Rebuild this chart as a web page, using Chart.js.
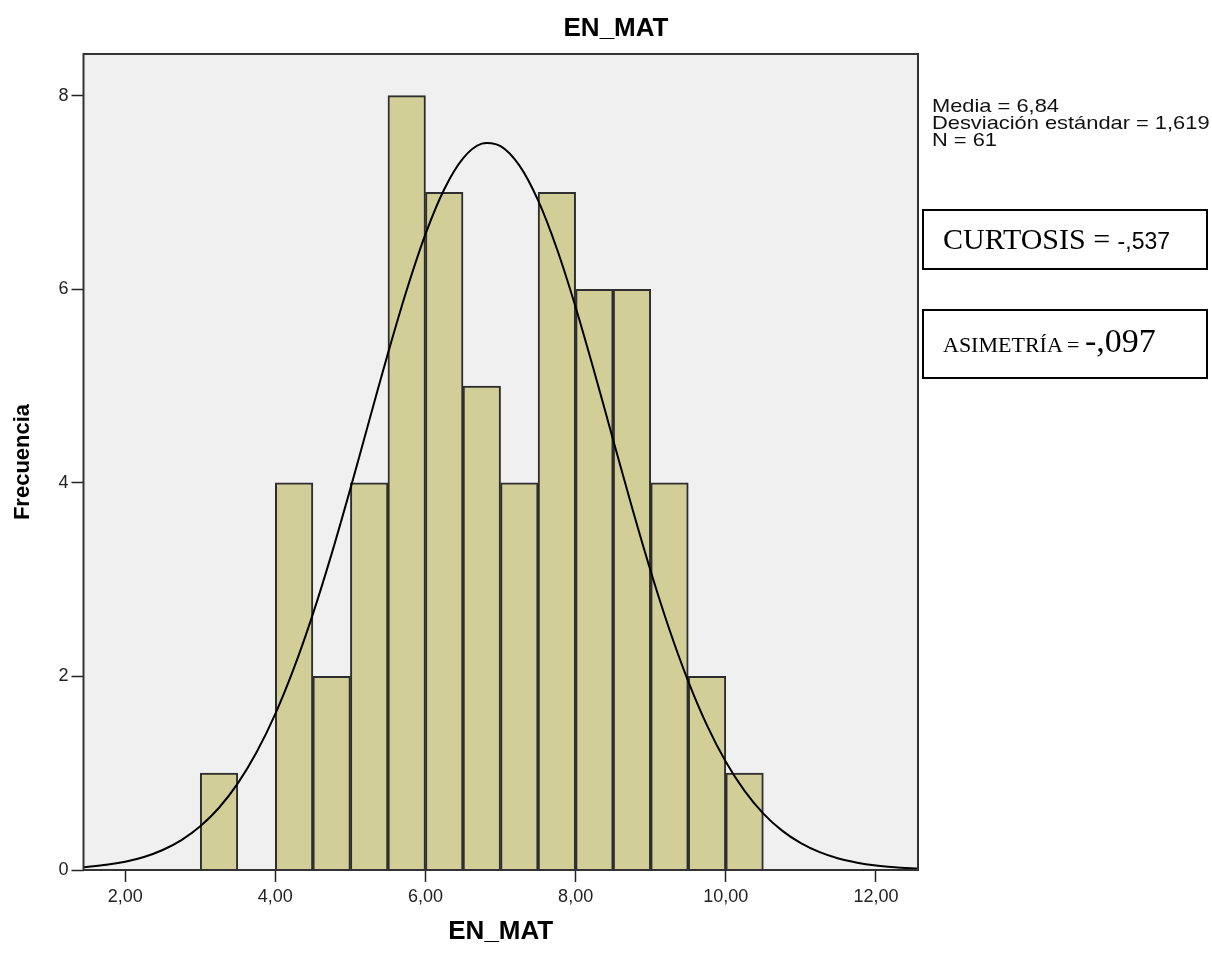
<!DOCTYPE html>
<html>
<head>
<meta charset="utf-8">
<script src="https://cdn.jsdelivr.net/npm/chart.js@4.4.0/dist/chart.umd.min.js"></script>
<style>
  body { margin: 0; background: #fff; }
  #wrap { position: relative; width: 1212px; height: 962px; }
  .stats { position: absolute; left: 932px; top: 97px; font: 19px/17px "Liberation Sans", Arial, sans-serif; color: #111; white-space: nowrap; transform: scaleX(1.15); transform-origin: left top; }
  .box { position: absolute; left: 922px; width: 286px; border: 2px solid #000; box-sizing: border-box; }
  .box div { position: absolute; left: 19px; white-space: nowrap; line-height: 1; color: #000; }
  .serif { font-family: "Liberation Serif", "Times New Roman", serif; }
  .sans { font-family: "Liberation Sans", Arial, sans-serif; }
</style>
</head>
<body>
<div id="wrap">
  <canvas id="hist-chart" width="1212" height="962"></canvas>
  <div class="stats">Media = 6,84<br>Desviación estándar = 1,619<br>N = 61</div>
  <div class="box" style="top:209px;height:61px;">
    <div style="top:13px;"><span class="serif" style="font-size:30px;">CURTOSIS = </span><span class="sans" style="font-size:23px;">-,537</span></div>
  </div>
  <div class="box" style="top:309px;height:70px;">
    <div style="top:13px;"><span class="serif" style="font-size:22px;">ASIMETRÍA = </span><span class="serif" style="font-size:34px;">-,097</span></div>
  </div>
</div>
<script>
  // histogram bins (centre of each 0,5 wide bin) and counts
  const binCenters = [3.25, 3.75, 4.25, 4.75, 5.25, 5.75, 6.25, 6.75, 7.25, 7.75, 8.25, 8.75, 9.25, 9.75, 10.25];
  const counts = [1, 0, 4, 2, 4, 8, 7, 5, 4, 7, 6, 6, 4, 2, 1];

  // normal curve
  const curveX = [1.445, 1.75, 2, 2.25, 2.5, 2.75, 3, 3.25, 3.5, 3.75, 4, 4.25, 4.5, 4.75, 5, 5.25, 5.5, 5.75, 6, 6.25, 6.5, 6.75,
                  7, 7.25, 7.5, 7.75, 8, 8.25, 8.5, 8.75, 9, 9.25, 9.5, 9.75, 10, 10.25, 10.5, 10.75, 11, 11.25, 11.5, 11.75, 12, 12.25, 12.56];
  const curveY = [0.029, 0.054, 0.086, 0.135, 0.207, 0.309, 0.451, 0.643, 0.895, 1.216, 1.613, 2.09, 2.644, 3.266, 3.94, 4.641, 5.337, 5.992, 6.57, 7.033, 7.352, 7.504,
                  7.479, 7.279, 6.917, 6.418, 5.814, 5.143, 4.443, 3.748, 3.087, 2.482, 1.949, 1.494, 1.118, 0.818, 0.583, 0.407, 0.277, 0.184, 0.119, 0.076, 0.047, 0.028, 0.015];

  // axis ticks
  const xTicks = [2, 4, 6, 8, 10, 12];
  const yTicks = [0, 2, 4, 6, 8];

  const fontName = '"Liberation Sans", Arial, sans-serif';

  // plot background, frame and centred title
  const framePlugin = {
    id: 'frame',
    beforeDraw(chart) {
      const a = chart.chartArea, ctx = chart.ctx;
      ctx.save();
      ctx.fillStyle = '#f0f0f0';
      ctx.fillRect(a.left, a.top, a.right - a.left, a.bottom - a.top);
      ctx.restore();
    },
    afterDraw(chart) {
      const a = chart.chartArea, ctx = chart.ctx;
      ctx.save();
      ctx.strokeStyle = '#333';
      ctx.lineWidth = 2;
      ctx.strokeRect(a.left, a.top, a.right - a.left, a.bottom - a.top);
      ctx.fillStyle = '#000';
      ctx.font = 'bold 26px ' + fontName;
      ctx.textAlign = 'center';
      ctx.textBaseline = 'middle';
      ctx.fillText('EN_MAT', 616, 29);
      ctx.restore();
    }
  };

  const ctxH = document.getElementById('hist-chart');
  const histChart = new Chart(ctxH, {
    type: 'bar',
    data: {
      datasets: [{
        type: 'line',
        data: curveX.map((x, i) => ({ x: x, y: curveY[i] })),
        borderColor: '#000',
        borderWidth: 2,
        pointRadius: 0,
        tension: 0.3,
        fill: false,
        order: 1
      }, {
        type: 'bar',
        data: binCenters.map((x, i) => ({ x: x, y: counts[i] })),
        backgroundColor: '#d2ce98',
        borderColor: '#2e2e2e',
        borderWidth: 2,
        barPercentage: 1,
        categoryPercentage: 1,
        order: 2
      }]
    },
    options: {
      responsive: false,
      animation: false,
      devicePixelRatio: 1,
      layout: { padding: { top: 54, right: 294, left: 0, bottom: 0 } },
      plugins: {
        legend: { display: false },
        tooltip: { enabled: false },
        title: { display: false }
      },
      scales: {
        x: {
          type: 'linear',
          min: 1.445,
          max: 12.56,
          offset: false,
          afterFit: (s) => { s.height = 92; },
          afterBuildTicks: (s) => { s.ticks = xTicks.map(v => ({ value: v })); },
          ticks: {
            color: '#222',
            font: { family: fontName, size: 18 },
            padding: 4,
            maxRotation: 0,
            callback: (v) => v.toFixed(2).replace('.', ',')
          },
          grid: { offset: false, drawOnChartArea: false, tickLength: 12, tickColor: '#222', tickWidth: 1.5 },
          border: { display: false },
          title: {
            display: true,
            text: 'EN_MAT',
            color: '#000',
            font: { family: fontName, size: 26, weight: 'bold' },
            padding: { top: 0, bottom: 15 }
          }
        },
        y: {
          type: 'linear',
          min: 0,
          max: 8.43,
          afterFit: (s) => { s.width = 83.5; },
          afterBuildTicks: (s) => { s.ticks = yTicks.map(v => ({ value: v })); },
          ticks: {
            color: '#222',
            font: { family: fontName, size: 18 },
            padding: 3
          },
          grid: { drawOnChartArea: false, tickLength: 12, tickColor: '#222', tickWidth: 1.5 },
          border: { display: false },
          title: {
            display: true,
            text: 'Frecuencia',
            color: '#000',
            font: { family: fontName, size: 22, weight: 'bold' },
            padding: { top: 10, bottom: 0 }
          }
        }
      }
    },
    plugins: [framePlugin]
  });
</script>
</body>
</html>
